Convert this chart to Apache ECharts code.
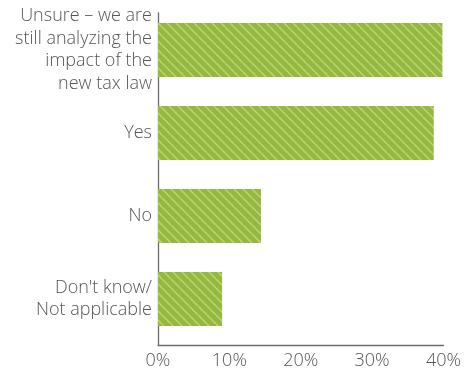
<!DOCTYPE html>
<html>
<head>
<meta charset="utf-8">
<style>
  html, body { margin: 0; padding: 0; background: #ffffff; }
  #chart { width: 464px; height: 372px; }
</style>
<script src="https://cdn.jsdelivr.net/npm/echarts@6/dist/echarts.min.js"></script>
</head>
<body>
<div id="chart"></div>
<script>
// Survey answers, top to bottom
var categories = [
  'Unsure – we are\nstill analyzing the\nimpact of the\nnew tax law',
  'Yes',
  'No',
  "Don't know/\nNot applicable"
];
var shares = [39.5, 38.3, 14.3, 8.9];
var tickValues = [0, 10, 20, 30, 40];

var TEXT = '#555555';
var FONT = '"Open Sans", "DejaVu Sans", sans-serif';

// Green fill with thin light diagonal hatching
function hatch() {
  var s = 9;
  var c = document.createElement('canvas');
  c.width = s; c.height = s;
  var g = c.getContext('2d');
  g.fillStyle = '#95b93c';
  g.fillRect(0, 0, s, s);
  g.strokeStyle = '#bcd47f';
  g.lineWidth = 1.4;
  for (var k = -s; k <= s; k += s) {
    g.beginPath();
    g.moveTo(k, 0);
    g.lineTo(k + s, s);
    g.stroke();
  }
  return { image: c, repeat: 'repeat' };
}

var chart = echarts.init(document.getElementById('chart'), null, { renderer: 'canvas' });

chart.setOption({
  animation: false,
  grid: [
    // frame: axis lines and percentage labels
    { left: 158, top: 13, width: 288, height: 332 },
    // bars and category labels
    { left: 158, top: 8.5, width: 288, height: 332 }
  ],
  xAxis: [
    {
      gridIndex: 0, type: 'value', min: 0, max: 40, interval: 10,
      axisLine: { show: true, lineStyle: { color: '#6b6b6b', width: 1.3 } },
      axisTick: { show: false },
      splitLine: { show: false },
      axisLabel: {
        margin: 7, color: TEXT, fontFamily: FONT, fontSize: 18, fontWeight: 300,
        formatter: function (v) { return tickValues.indexOf(v) >= 0 ? v + '%' : ''; }
      }
    },
    {
      gridIndex: 1, type: 'value', min: 0, max: 40,
      show: false
    }
  ],
  yAxis: [
    {
      gridIndex: 0, type: 'category', data: categories, inverse: true,
      axisLine: { show: true, lineStyle: { color: '#6b6b6b', width: 1.3 } },
      axisTick: { show: false },
      axisLabel: { show: false }
    },
    {
      gridIndex: 1, type: 'category', data: categories, inverse: true,
      axisLine: { show: false },
      axisTick: { show: false },
      axisLabel: {
        margin: 6, color: TEXT, fontFamily: FONT, fontSize: 18, fontWeight: 300,
        lineHeight: 22.5, align: 'right', padding: [0, 0, 5, 0]
      }
    }
  ],
  series: [{
    type: 'bar',
    xAxisIndex: 1,
    yAxisIndex: 1,
    data: shares,
    barWidth: 54,
    itemStyle: { color: hatch() },
    silent: true
  }]
});
</script>
</body>
</html>
